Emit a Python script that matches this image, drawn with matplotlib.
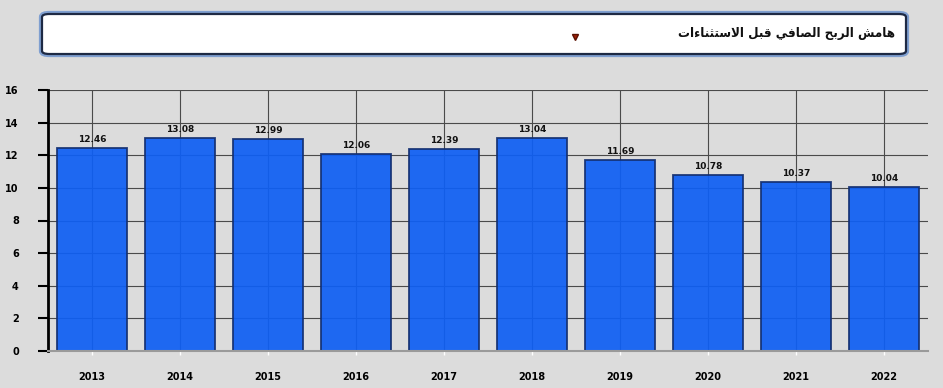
import matplotlib
matplotlib.use("Agg")
import matplotlib.pyplot as plt
from matplotlib.patches import FancyBboxPatch
from matplotlib.lines import Line2D

years = ["2013", "2014", "2015", "2016", "2017", "2018", "2019", "2020", "2021", "2022"]
values = [12.46, 13.08, 12.99, 12.06, 12.39, 13.04, 11.69, 10.78, 10.37, 10.04]
y_ticks = [0, 2, 4, 6, 8, 10, 12, 14, 16]
title = "هامش الربح الصافي قبل الاستثناءات"

# --- minimal Arabic shaping (matplotlib has no complex text layout) ---
FORMS = {  # isolated, final, initial, medial
    "\u0627": ("\uFE8D", "\uFE8E", None, None),
    "\u0628": ("\uFE8F", "\uFE90", "\uFE91", "\uFE92"),
    "\u062A": ("\uFE95", "\uFE96", "\uFE97", "\uFE98"),
    "\u062B": ("\uFE99", "\uFE9A", "\uFE9B", "\uFE9C"),
    "\u062D": ("\uFEA1", "\uFEA2", "\uFEA3", "\uFEA4"),
    "\u0631": ("\uFEAD", "\uFEAE", None, None),
    "\u0633": ("\uFEB1", "\uFEB2", "\uFEB3", "\uFEB4"),
    "\u0634": ("\uFEB5", "\uFEB6", "\uFEB7", "\uFEB8"),
    "\u0635": ("\uFEB9", "\uFEBA", "\uFEBB", "\uFEBC"),
    "\u0641": ("\uFED1", "\uFED2", "\uFED3", "\uFED4"),
    "\u0642": ("\uFED5", "\uFED6", "\uFED7", "\uFED8"),
    "\u0644": ("\uFEDD", "\uFEDE", "\uFEDF", "\uFEE0"),
    "\u0645": ("\uFEE1", "\uFEE2", "\uFEE3", "\uFEE4"),
    "\u0646": ("\uFEE5", "\uFEE6", "\uFEE7", "\uFEE8"),
    "\u0647": ("\uFEE9", "\uFEEA", "\uFEEB", "\uFEEC"),
    "\u064A": ("\uFEF1", "\uFEF2", "\uFEF3", "\uFEF4"),
    "\u0621": ("\uFE80", None, None, None),
}


def dual(c):
    return c in FORMS and FORMS[c][2] is not None


def shape(text):
    out = []
    i = 0
    n = len(text)
    while i < n:
        c = text[i]
        if c not in FORMS:
            out.append(c)
            i += 1
            continue
        prev = text[i - 1] if i > 0 else " "
        if c == "\u0644" and i + 1 < n and text[i + 1] == "\u0627":
            out.append("\uFEFC" if dual(prev) else "\uFEFB")
            i += 2
            continue
        nxt = text[i + 1] if i + 1 < n else " "
        jp = dual(prev)
        jn = dual(c) and nxt in FORMS
        iso, fin, ini, med = FORMS[c]
        if jp and jn:
            g = med
        elif jp:
            g = fin or iso
        elif jn:
            g = ini
        else:
            g = iso
        out.append(g)
        i += 1
    return "".join(out)[::-1]


W, H = 943, 388
fig = plt.figure(figsize=(W / 100, H / 100), dpi=100)
fig.patch.set_facecolor("#dcdcdc")

# title box
bx0, by0, bx1, by1 = 42, 14, 906, 54
for lw, ec in [(4.5, "#7f9fd0"), (1.6, "#1e2a44")]:
    fig.add_artist(FancyBboxPatch((bx0 / W, 1 - by1 / H), (bx1 - bx0) / W, (by1 - by0) / H,
                                  boxstyle="round,pad=0,rounding_size=0.008",
                                  transform=fig.transFigure, facecolor="white",
                                  edgecolor=ec, linewidth=lw))
fig.text(895 / W, 1 - 33 / H, shape(title), ha="right", va="center",
         fontsize=9.5, fontweight="bold", family="DejaVu Sans", fontstretch="condensed",
         color="#111111")
fig.add_artist(Line2D([575 / W], [1 - 37 / H], marker="v", markersize=4.5,
                      color="#a02008", markeredgecolor="#5a1000",
                      transform=fig.transFigure))

# axes
ax = fig.add_axes([48 / W, 1 - 351 / H, (928 - 48) / W, (351 - 90) / H])
ax.set_facecolor("#dcdcdc")
x = list(range(len(years)))
ax.set_axisbelow(True)
ax.grid(True, color="#4a4a4a", linewidth=0.8)
ax.bar(x, values, width=0.8, color="#0f5ff3", edgecolor="#142f70",
       linewidth=1.3, alpha=0.93, zorder=2)
for xi, v in zip(x, values):
    ax.text(xi, v + 0.25, f"{v:.2f}", ha="center", va="bottom", fontsize=6.5,
            fontweight="bold", color="#111111", zorder=3)

ax.set_xlim(-0.5, len(years) - 0.5)
ax.set_ylim(0, 16)
ax.set_yticks(y_ticks)
ax.set_yticklabels([str(t) for t in y_ticks], fontsize=7, fontweight="bold")
ax.set_xticks(x)
ax.set_xticklabels(years, fontsize=7, fontweight="bold")
ax.tick_params(axis="y", length=7, width=1.5, color="black", pad=14)
ax.tick_params(axis="x", length=3, width=1, color="white", pad=12)
for s in ["top", "right"]:
    ax.spines[s].set_visible(False)
ax.spines["left"].set_linewidth(2)
ax.spines["left"].set_color("black")
ax.spines["bottom"].set_color("#9a9a9a")
ax.spines["bottom"].set_linewidth(1.5)

fig.savefig("out.png", dpi=100, facecolor=fig.get_facecolor())
